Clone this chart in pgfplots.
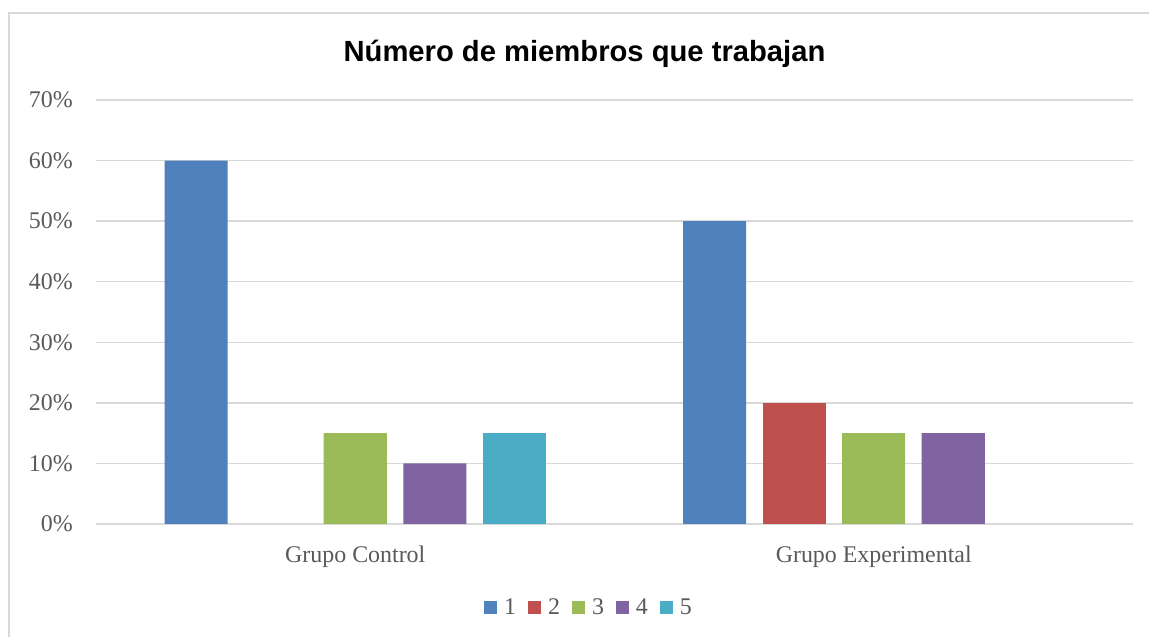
\documentclass[border=0pt]{standalone}
\usepackage{pgfplots}
\pgfplotsset{compat=1.18}
\usepackage{fontspec}
\setmainfont{Liberation Serif}
\newfontfamily\titlefont{Liberation Sans}
\definecolor{c1}{HTML}{4F81BD}
\definecolor{c2}{HTML}{C0504D}
\definecolor{c3}{HTML}{9BBB59}
\definecolor{c4}{HTML}{8064A2}
\definecolor{c5}{HTML}{4BACC6}
\definecolor{gridc}{HTML}{D9D9D9}
\definecolor{txt}{HTML}{595959}
\begin{document}
\begin{tikzpicture}[x=1bp,y=1bp]
\path[use as bounding box] (0,0) rectangle (1149,637);
\draw[gridc, line width=1.5bp] (9,-10) -- (9,624) -- (1160,624);
\node[font=\titlefont\bfseries\fontsize{29.3}{33}\selectfont, text=black] at (584.5,583) {Número de miembros que trabajan};
\begin{axis}[
  at={(96bp,113bp)}, anchor=south west,
  scale only axis, width=1037bp, height=424bp,
  xmin=-0.5, xmax=1.5, ymin=0, ymax=70,
  xtick={0,1}, xticklabels={Grupo Control, Grupo Experimental},
  ytick={0,10,20,30,40,50,60,70},
  yticklabels={0\%,10\%,20\%,30\%,40\%,50\%,60\%,70\%},
  ymajorgrids, major grid style={gridc, line width=1.5bp},
  axis line style={draw=none},
  major tick length=0,
  tick label style={font=\fontsize{24}{28}\selectfont, text=txt, inner sep=0pt},
  y tick label style={anchor=east, xshift=-23bp},
  x tick label style={anchor=base, yshift=-39bp},
  ybar=16.5bp, bar width=63bp,
  clip=false,
  legend columns=-1,
  legend style={at={(0.4754,-0.1958)}, anchor=center, draw=none, fill=none,
    font=\fontsize{24}{28}\selectfont, text=txt, inner sep=0pt,
    /tikz/every odd column/.append style={column sep=5bp},
    /tikz/every even column/.append style={column sep=10bp}},
  legend image code/.code={\fill[#1] (0bp,-6.5bp) rectangle (13bp,6.5bp);},
]
\addplot[fill=c1, draw=none] coordinates {(0,60) (1,50)};
\addplot[fill=c2, draw=none] coordinates {(1,20)};
\addplot[fill=c3, draw=none] coordinates {(0,15) (1,15)};
\addplot[fill=c4, draw=none] coordinates {(0,10) (1,15)};
\addplot[fill=c5, draw=none] coordinates {(0,15)};
\legend{1,2,3,4,5}
\end{axis}
\end{tikzpicture}
\end{document}
